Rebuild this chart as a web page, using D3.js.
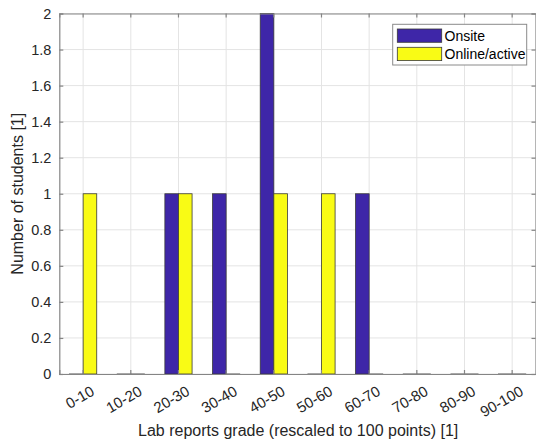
<!DOCTYPE html>
<html><head><meta charset="utf-8">
<script src="https://cdn.jsdelivr.net/npm/d3@7"></script>
<style>
body{margin:0;background:#fff;}
svg{display:block;font-family:"Liberation Sans",Arial,Helvetica,sans-serif;}
</style></head>
<body><svg id="chart" width="536" height="442"></svg>
<script>
const categories = ["0-10","10-20","20-30","30-40","40-50","50-60","60-70","70-80","80-90","90-100"];
const seriesNames = ["Onsite","Online/active"];
const onsite = [0,0,1,1,2,0,1,0,0,0];
const online = [1,0,1,0,1,1,0,0,0,0];
const yTicks = [0,0.2,0.4,0.6,0.8,1,1.2,1.4,1.6,1.8,2];
const colors = ["#3E26A8","#F9FB15"];

const svg = d3.select("#chart");
const L = 59.3, R = 536, T = 13.5, B = 374;
const x = d3.scaleBand().domain(categories).range([L, R]).padding(0);
const bw = x.bandwidth();
const xs = d3.scaleBand().domain(seriesNames).range([bw/2 - 13.6, bw/2 + 13.6]).padding(0);
const y = d3.scaleLinear().domain([0, 2]).range([B, T]);
const axisCol = "#858585", gridCol = "#e4e4e4", textCol = "#262626";

// grid
const g = svg.append("g");
g.selectAll(".gy").data(yTicks).join("line")
  .attr("x1", L).attr("x2", R).attr("y1", d => y(d)).attr("y2", d => y(d))
  .attr("stroke", gridCol).attr("stroke-width", 1);
g.selectAll(".gx").data(categories).join("line")
  .attr("x1", d => x(d) + bw/2).attr("x2", d => x(d) + bw/2).attr("y1", T).attr("y2", B)
  .attr("stroke", gridCol).attr("stroke-width", 1);

// bars
const series = [onsite, online];
series.forEach((vals, si) => {
  svg.append("g").selectAll("rect").data(vals.map((v, i) => ({c: categories[i], v})))
    .join("rect")
    .attr("x", d => x(d.c) + xs(seriesNames[si]))
    .attr("width", xs.bandwidth())
    .attr("y", d => y(d.v))
    .attr("height", d => Math.max(0.01, y(0) - y(d.v)))
    .attr("fill", colors[si])
    .attr("stroke", "#3a3a3a").attr("stroke-width", 0.8);
});

// axes
const axL = d3.axisLeft(y).tickValues(yTicks).tickSize(-4).tickPadding(8).tickFormat(d3.format("~g"));
const axR = d3.axisRight(y).tickValues(yTicks).tickSize(-4).tickFormat("");
const axB = d3.axisBottom(x).tickSize(-4).tickFormat("");
const axT = d3.axisTop(x).tickSize(-4).tickFormat("");
const gl = svg.append("g").attr("transform", `translate(${L},0)`).call(axL);
const gr = svg.append("g").attr("transform", `translate(${R-0.5},0)`).call(axR);
const gb = svg.append("g").attr("transform", `translate(0,${B})`).call(axB);
const gt = svg.append("g").attr("transform", `translate(0,${T})`).call(axT);
[gl, gr, gb, gt].forEach(a => {
  a.selectAll(".domain").attr("stroke", axisCol).attr("stroke-width", 1.2);
  a.selectAll(".tick line").attr("stroke", axisCol).attr("stroke-width", 1.2);
});
gl.selectAll(".tick text").attr("font-size", 14.5).attr("fill", textCol).attr("font-family", null);

// x tick labels rotated
svg.append("g").selectAll("text").data(categories).join("text")
  .attr("transform", d => `translate(${x(d) + bw/2 + 7},${B + 11}) rotate(-30)`)
  .attr("text-anchor", "end").attr("dy", "0.71em")
  .attr("font-size", 15).attr("fill", textCol).text(d => d);

// axis titles
svg.append("text").attr("x", (L + R)/2 + 0.5).attr("y", 436).attr("text-anchor", "middle")
  .attr("font-size", 16).attr("fill", textCol).text("Lab reports grade (rescaled to 100 points) [1]");
svg.append("text").attr("transform", `translate(23,${(T + B)/2}) rotate(-90)`).attr("text-anchor", "middle")
  .attr("font-size", 16).attr("fill", textCol).text("Number of students [1]");

// legend
const lg = svg.append("g");
lg.append("rect").attr("x", 392.7).attr("y", 24.3).attr("width", 134).attr("height", 40.7)
  .attr("fill", "#fff").attr("stroke", "#8a8a8a").attr("stroke-width", 1);
seriesNames.forEach((n, i) => {
  lg.append("rect").attr("x", 397.3).attr("y", 29 + i*18.3).attr("width", 44.4).attr("height", 13.3)
    .attr("fill", colors[i]).attr("stroke", "#3a3a3a").attr("stroke-width", 0.8);
  lg.append("text").attr("x", 444.5).attr("y", 35.8 + i*18.3).attr("dy", "0.35em")
    .attr("font-size", 14).attr("fill", "#000").text(n);
});
</script></body></html>
